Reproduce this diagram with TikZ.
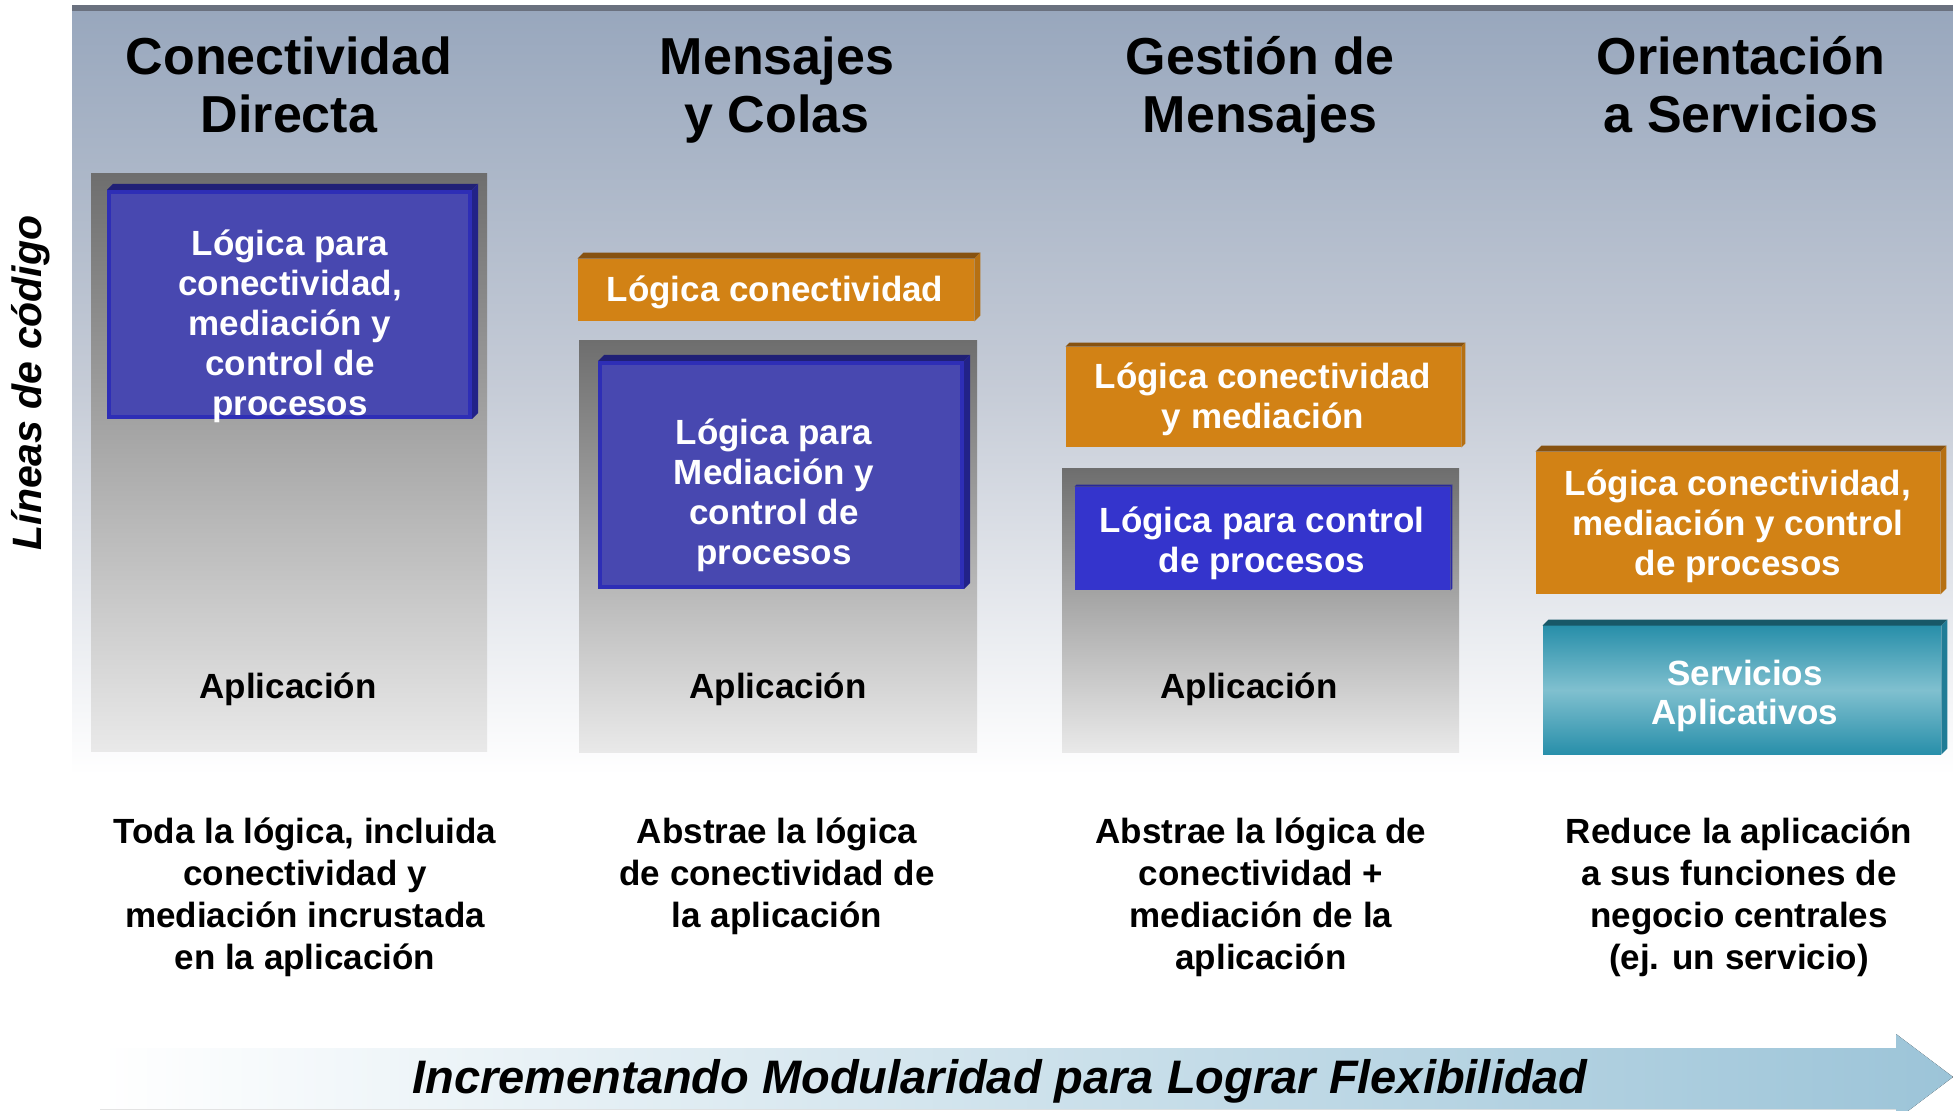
\documentclass[tikz,border=0pt]{standalone}
\usepackage{fontspec}
\setmainfont{Liberation Sans}
\usetikzlibrary{positioning, calc}

\definecolor{panelTop}{RGB}{152,167,189}
\definecolor{panelMid}{RGB}{198,204,215}
\definecolor{panelLine}{RGB}{106,113,127}
\definecolor{appDark}{RGB}{110,110,110}
\definecolor{appLight}{RGB}{233,233,233}
\definecolor{logicBlue}{RGB}{72,72,176}
\definecolor{logicEdge}{RGB}{46,46,182}
\definecolor{logicTop}{RGB}{32,32,118}
\definecolor{plainBlue}{RGB}{52,52,204}
\definecolor{connOrange}{RGB}{210,130,21}
\definecolor{connTop}{RGB}{135,82,16}
\definecolor{connSide}{RGB}{182,112,18}
\definecolor{svcDark}{RGB}{40,143,170}
\definecolor{svcLight}{RGB}{128,192,207}
\definecolor{svcTop}{RGB}{24,88,104}
\definecolor{svcSide}{RGB}{32,124,150}
\definecolor{arrowBlue}{RGB}{156,196,216}

% node, top colour, side colour, depth
\newcommand{\boxbevel}[4]{%
  \fill[#2] (#1.north west) -- ++(#4,-#4) -- ($(#1.north east)+(#4,-#4)$) -- (#1.north east) -- cycle;
  \fill[#3] (#1.north east) -- ++(#4,-#4) -- ($(#1.south east)+(#4,-#4)$) -- (#1.south east) -- cycle;}

\begin{document}
\begin{tikzpicture}[x=0.5pt, y=-0.5pt,
    title/.style = {font=\fontsize{26}{29}\selectfont\bfseries, align=center, anchor=base, inner sep=0pt},
    boxtext/.style = {font=\fontsize{17.5}{20}\selectfont\bfseries, text=white, align=center, anchor=base, inner sep=0pt},
    note/.style = {font=\fontsize{17.5}{21}\selectfont\bfseries, align=center, anchor=base, inner sep=0pt},
    appbox/.style = {rectangle, inner sep=0pt, top color=appDark, bottom color=appLight},
    logic/.style = {rectangle, inner sep=0pt, fill=logicBlue, draw=logicEdge, line width=2pt},
    conn/.style = {rectangle, inner sep=0pt, fill=connOrange},
    service/.style = {rectangle, inner sep=0pt, top color=svcDark, bottom color=svcDark, middle color=svcLight}]
    \useasboundingbox (0,0) rectangle (1953,1111);
    \clip (0,0) rectangle (1953,1111);

    % Background
    \fill[top color=panelTop, bottom color=white, middle color=panelMid] (72,8) rectangle (1953,775);
    \fill[panelLine] (72,5) rectangle (1953,11);

    % Column titles (anchored on the last line)
    \node[title] (tdir) at (289,133) {Conectividad\\Directa};
    \node[title] (tmsg) at (777,133) {Mensajes\\y Colas};
    \node[title] (tges) at (1260,133) {Gestión de\\Mensajes};
    \node[title] (tsoa) at (1741,133) {Orientación\\a Servicios};

    % Application blocks
    \node[appbox, minimum width=198pt, minimum height=288.5pt] (app1) at (289,462.5) {};
    \node[appbox, minimum width=199pt, minimum height=205.5pt] (app2) at (778,546.5) {};
    \node[appbox, minimum width=198.5pt, minimum height=141.5pt] (app3) at (1260.5,610.5) {};

    % Logic blocks
    \node[logic, minimum width=180.5pt, minimum height=112.5pt] (blue1) at (289.5,304.5) {};
    \boxbevel{blue1}{logicTop}{logicEdge!75!black}{6}
    \node[logic, minimum width=181pt, minimum height=112pt] (blue2) at (781,475) {};
    \boxbevel{blue2}{logicTop}{logicEdge!75!black}{6}
    \node[rectangle, inner sep=0pt, fill=plainBlue, minimum width=187.5pt, minimum height=51.5pt] (blue3) at (1262.5,538.5) {};
    \boxbevel{blue3}{logicTop!60!plainBlue}{plainBlue!80!black}{2}

    \node[conn, minimum width=198pt, minimum height=31pt] (conn2) at (776,290) {};
    \boxbevel{conn2}{connTop}{connSide}{6}
    \node[conn, minimum width=197.5pt, minimum height=50pt] (conn3) at (1263.5,397) {};
    \boxbevel{conn3}{connTop}{connSide}{4}
    \node[conn, minimum width=202pt, minimum height=71pt] (conn4) at (1738,523) {};
    \boxbevel{conn4}{connTop}{connSide}{6}
    \node[service, minimum width=199pt, minimum height=64pt] (svc) at (1742,690) {};
    \boxbevel{svc}{svcTop}{svcSide}{6}

    % Texts in the blocks (anchored on the last line)
    \node[boxtext] (blue1txt) at (290,416) {Lógica para\\conectividad,\\mediación y\\control de\\procesos};
    \node[boxtext] (blue2txt) at (774,565) {Lógica para\\Mediación y\\control de\\procesos};
    \node[boxtext] (blue3txt) at (1262,573) {Lógica para control\\de procesos};
    \node[boxtext] (conn2txt) at (775,302) {Lógica conectividad};
    \node[boxtext] (conn3txt) at (1263,429) {Lógica conectividad\\y mediación};
    \node[boxtext] (conn4txt) at (1738,576) {Lógica conectividad,\\mediación y control\\de procesos};
    \node[boxtext] (svctxt) at (1745,725) {Servicios\\Aplicativos};

    \node[note] (app1txt) at (288,698) {Aplicación};
    \node[note] (app2txt) at (778,698) {Aplicación};
    \node[note] (app3txt) at (1249,698) {Aplicación};

    % Descriptions
    \node[note] (desc1) at (305,969) {Toda la lógica, incluida\\conectividad y\\mediación incrustada\\en la aplicación};
    \node[note] (desc2) at (777,927) {Abstrae la lógica\\de conectividad de\\la aplicación};
    \node[note] (desc3) at (1261,969) {Abstrae la lógica de\\conectividad +\\mediación de la\\aplicación};
    \node[note] (desc4) at (1739,969) {Reduce la aplicación\\a sus funciones de\\negocio centrales\\(ej. un servicio)};

    % Axis label
    \node[font=\fontsize{20.5}{24}\selectfont\bfseries\itshape, rotate=90, inner sep=0pt] (loc) at (31,383) {Líneas de código};

    % Bottom arrow
    \fill[left color=white, right color=arrowBlue] (100,1048) -- (1896,1048) -- (1896,1034) -- (1953,1077)
        -- (1896,1120) -- (1896,1109) -- (100,1109) -- cycle;
    \node[font=\fontsize{23.5}{28}\selectfont\bfseries\itshape, anchor=base, inner sep=0pt] (modul) at (1000,1093)
        {Incrementando Modularidad para Lograr Flexibilidad};
\end{tikzpicture}
\end{document}
